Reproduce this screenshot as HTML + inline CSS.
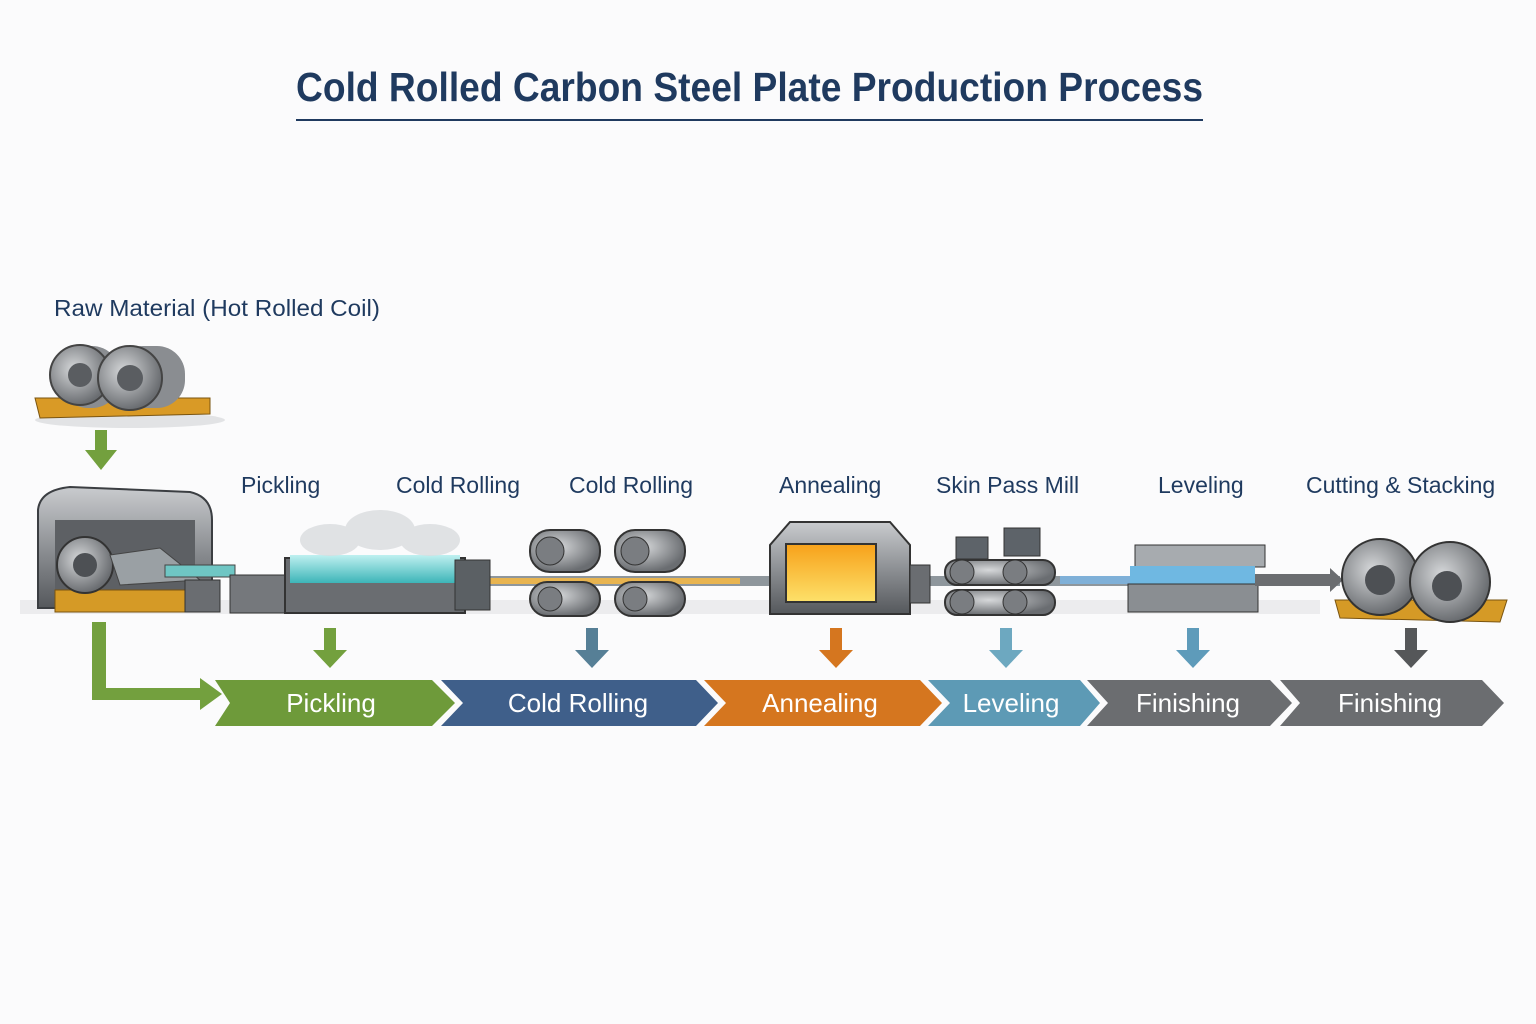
<!DOCTYPE html>
<html><head><meta charset="utf-8"><style>
html,body{margin:0;padding:0;background:#fbfbfc;}
svg{display:block;font-family:"Liberation Sans",sans-serif;}
</style></head><body>
<svg width="1536" height="1024" viewBox="0 0 1536 1024" xmlns="http://www.w3.org/2000/svg">
<defs>
<linearGradient id="steel" x1="0" y1="0" x2="0" y2="1"><stop offset="0" stop-color="#c9cbce"/><stop offset="0.5" stop-color="#8e9195"/><stop offset="1" stop-color="#55585c"/></linearGradient>
<radialGradient id="coil" cx="0.4" cy="0.4" r="0.6"><stop offset="0" stop-color="#d6d8da"/><stop offset="1" stop-color="#6a6d71"/></radialGradient>
<linearGradient id="fire" x1="0" y1="0" x2="0" y2="1"><stop offset="0" stop-color="#f7a11a"/><stop offset="1" stop-color="#fde16a"/></linearGradient>
<linearGradient id="acid" x1="0" y1="0" x2="0" y2="1"><stop offset="0" stop-color="#bff0f0"/><stop offset="1" stop-color="#3db5b8"/></linearGradient>
</defs>
<rect width="1536" height="1024" fill="#fbfbfc"/>
<text x="296" y="101" font-size="41" fill="#1f3a5f" font-weight="bold" textLength="907" lengthAdjust="spacingAndGlyphs">Cold Rolled Carbon Steel Plate Production Process</text>
<rect x="296" y="119" width="907" height="2" fill="#1f3a5f"/>
<text x="54" y="316" font-size="23" fill="#1f3a5f" textLength="326" lengthAdjust="spacingAndGlyphs">Raw Material (Hot Rolled Coil)</text>
<!-- raw coils -->
<ellipse cx="130" cy="420" rx="95" ry="8" fill="#e2e3e5"/>
<polygon points="35,398 210,398 210,414 40,418" fill="#d99a26" stroke="#7a5410"/>
<rect x="60" y="346" width="60" height="62" rx="28" fill="#8a8d91"/>
<circle cx="80" cy="375" r="30" fill="url(#coil)" stroke="#444" stroke-width="2"/><circle cx="80" cy="375" r="12" fill="#5a5d61"/>
<rect x="115" y="346" width="70" height="62" rx="28" fill="#8a8d91"/>
<circle cx="130" cy="378" r="32" fill="url(#coil)" stroke="#444" stroke-width="2"/><circle cx="130" cy="378" r="13" fill="#5a5d61"/>
<!-- green down arrow -->
<rect x="95" y="430" width="12" height="22" fill="#73a03e"/><polygon points="85,450 117,450 101,470" fill="#73a03e"/>
<!-- conveyor line -->
<rect x="20" y="600" width="1300" height="14" fill="#ececee"/>
<rect x="460" y="576" width="880" height="10" fill="#8e969c"/>
<rect x="480" y="578" width="260" height="6" fill="#e8b450"/>
<rect x="1060" y="576" width="80" height="8" fill="#7fb0d8"/>
<!-- uncoiler -->
<path d="M38,608 L38,510 Q40,490 70,487 L190,492 Q212,497 212,520 L212,608 Z" fill="url(#steel)" stroke="#3b3e42" stroke-width="2"/>
<rect x="55" y="520" width="140" height="85" fill="#5d6064"/>
<polygon points="55,590 190,590 185,612 55,612" fill="#d59a26" stroke="#7a5410"/>
<circle cx="85" cy="565" r="28" fill="url(#coil)" stroke="#333" stroke-width="2"/><circle cx="85" cy="565" r="12" fill="#4d5054"/>
<polygon points="110,555 160,548 200,580 120,585" fill="#9aa0a4" stroke="#444"/>
<!-- pickling -->
<rect x="165" y="565" width="70" height="12" fill="#6fc6c4" stroke="#444"/>
<rect x="185" y="580" width="35" height="32" fill="#6a6d71" stroke="#333"/>
<rect x="230" y="575" width="60" height="38" fill="#75787c" stroke="#333"/>
<rect x="285" y="558" width="180" height="55" fill="#6a6d71" stroke="#333" stroke-width="2"/>
<rect x="290" y="555" width="170" height="28" fill="url(#acid)"/>
<rect x="455" y="560" width="35" height="50" fill="#5b6064" stroke="#333"/>
<g fill="#dadcdf" opacity="0.8"><ellipse cx="330" cy="540" rx="30" ry="16"/><ellipse cx="380" cy="530" rx="35" ry="20"/><ellipse cx="430" cy="540" rx="30" ry="16"/></g>
<!-- cold rolling stands -->
<g stroke="#333" stroke-width="2" fill="url(#coil)">
<rect x="530" y="530" width="70" height="42" rx="20"/><rect x="615" y="530" width="70" height="42" rx="20"/>
<rect x="530" y="582" width="70" height="34" rx="17"/><rect x="615" y="582" width="70" height="34" rx="17"/>
</g>
<g fill="#7a7d81" stroke="#333"><circle cx="550" cy="551" r="14"/><circle cx="635" cy="551" r="14"/><circle cx="550" cy="599" r="12"/><circle cx="635" cy="599" r="12"/></g>
<!-- annealing furnace -->
<path d="M770,614 L770,545 L790,522 L890,522 L910,545 L910,614 Z" fill="url(#steel)" stroke="#333" stroke-width="2"/>
<rect x="786" y="544" width="90" height="58" fill="url(#fire)" stroke="#333" stroke-width="2"/>
<rect x="910" y="565" width="20" height="38" fill="#6a6d71" stroke="#333"/>
<!-- skin pass -->
<g fill="#5d6369" stroke="#333"><rect x="956" y="537" width="32" height="22"/><rect x="1004" y="528" width="36" height="28"/></g>
<g stroke="#333" stroke-width="2" fill="url(#coil)">
<rect x="945" y="560" width="110" height="25" rx="12"/><rect x="945" y="590" width="110" height="25" rx="12"/></g>
<g fill="#7a7d81" stroke="#333"><circle cx="962" cy="572" r="12"/><circle cx="1015" cy="572" r="12"/><circle cx="962" cy="602" r="12"/><circle cx="1015" cy="602" r="12"/></g>
<!-- leveler -->
<rect x="1135" y="545" width="130" height="22" fill="#a7abaf" stroke="#333"/>
<rect x="1130" y="566" width="125" height="18" fill="#6fb8e2"/>
<rect x="1128" y="584" width="130" height="28" fill="#8a8e92" stroke="#333"/>
<polygon points="1255,574 1330,574 1330,568 1343,580 1330,592 1330,586 1255,586" fill="#6b6d70"/>
<!-- output coils -->
<polygon points="1335,600 1507,600 1500,622 1340,618" fill="#d59a26" stroke="#7a5410"/>
<circle cx="1380" cy="577" r="38" fill="url(#coil)" stroke="#333" stroke-width="2"/><circle cx="1380" cy="580" r="15" fill="#4d5054"/>
<circle cx="1450" cy="582" r="40" fill="url(#coil)" stroke="#333" stroke-width="2"/><circle cx="1447" cy="586" r="15" fill="#4d5054"/>
<!-- labels -->
<g font-size="23" fill="#1f3a5f">
<text x="241" y="493">Pickling</text><text x="396" y="493">Cold Rolling</text><text x="569" y="493">Cold Rolling</text>
<text x="779" y="493">Annealing</text><text x="936" y="493">Skin Pass Mill</text><text x="1158" y="493">Leveling</text><text x="1306" y="493">Cutting &amp; Stacking</text>
</g>
<!-- down arrows -->
<g>
<rect x="324" y="628" width="12" height="24" fill="#73a03e"/><polygon points="313,650 347,650 330,668" fill="#73a03e"/>
<rect x="586" y="628" width="12" height="24" fill="#567f96"/><polygon points="575,650 609,650 592,668" fill="#567f96"/>
<rect x="830" y="628" width="12" height="24" fill="#d5761f"/><polygon points="819,650 853,650 836,668" fill="#d5761f"/>
<rect x="1000" y="628" width="12" height="24" fill="#6da8c0"/><polygon points="989,650 1023,650 1006,668" fill="#6da8c0"/>
<rect x="1187" y="628" width="12" height="24" fill="#5e9bba"/><polygon points="1176,650 1210,650 1193,668" fill="#5e9bba"/>
<rect x="1405" y="628" width="12" height="24" fill="#555759"/><polygon points="1394,650 1428,650 1411,668" fill="#555759"/>
</g>
<!-- L arrow -->
<path d="M92,622 L106,622 L106,688 L200,688 L200,678 L222,694 L200,710 L200,700 L92,700 Z" fill="#73a03e"/>
<!-- chevrons -->
<g font-size="26" fill="#fff" text-anchor="middle">
<polygon points="215,680 432,680 455,703 432,726 215,726 230,703" fill="#6e9a3a"/><text x="331" y="712">Pickling</text>
<polygon points="441,680 696,680 718,703 696,726 441,726 463,703" fill="#3f5f8a"/><text x="578" y="712">Cold Rolling</text>
<polygon points="704,680 920,680 942,703 920,726 704,726 726,703" fill="#d5761f"/><text x="820" y="712">Annealing</text>
<polygon points="928,680 1080,680 1100,703 1080,726 928,726 950,703" fill="#5d9ab5"/><text x="1011" y="712">Leveling</text>
<polygon points="1087,680 1270,680 1292,703 1270,726 1087,726 1108,703" fill="#6b6d70"/><text x="1188" y="712">Finishing</text>
<polygon points="1280,680 1482,680 1504,703 1482,726 1280,726 1300,703" fill="#6b6d70"/><text x="1390" y="712">Finishing</text>
</g>
</svg>
</body></html>
